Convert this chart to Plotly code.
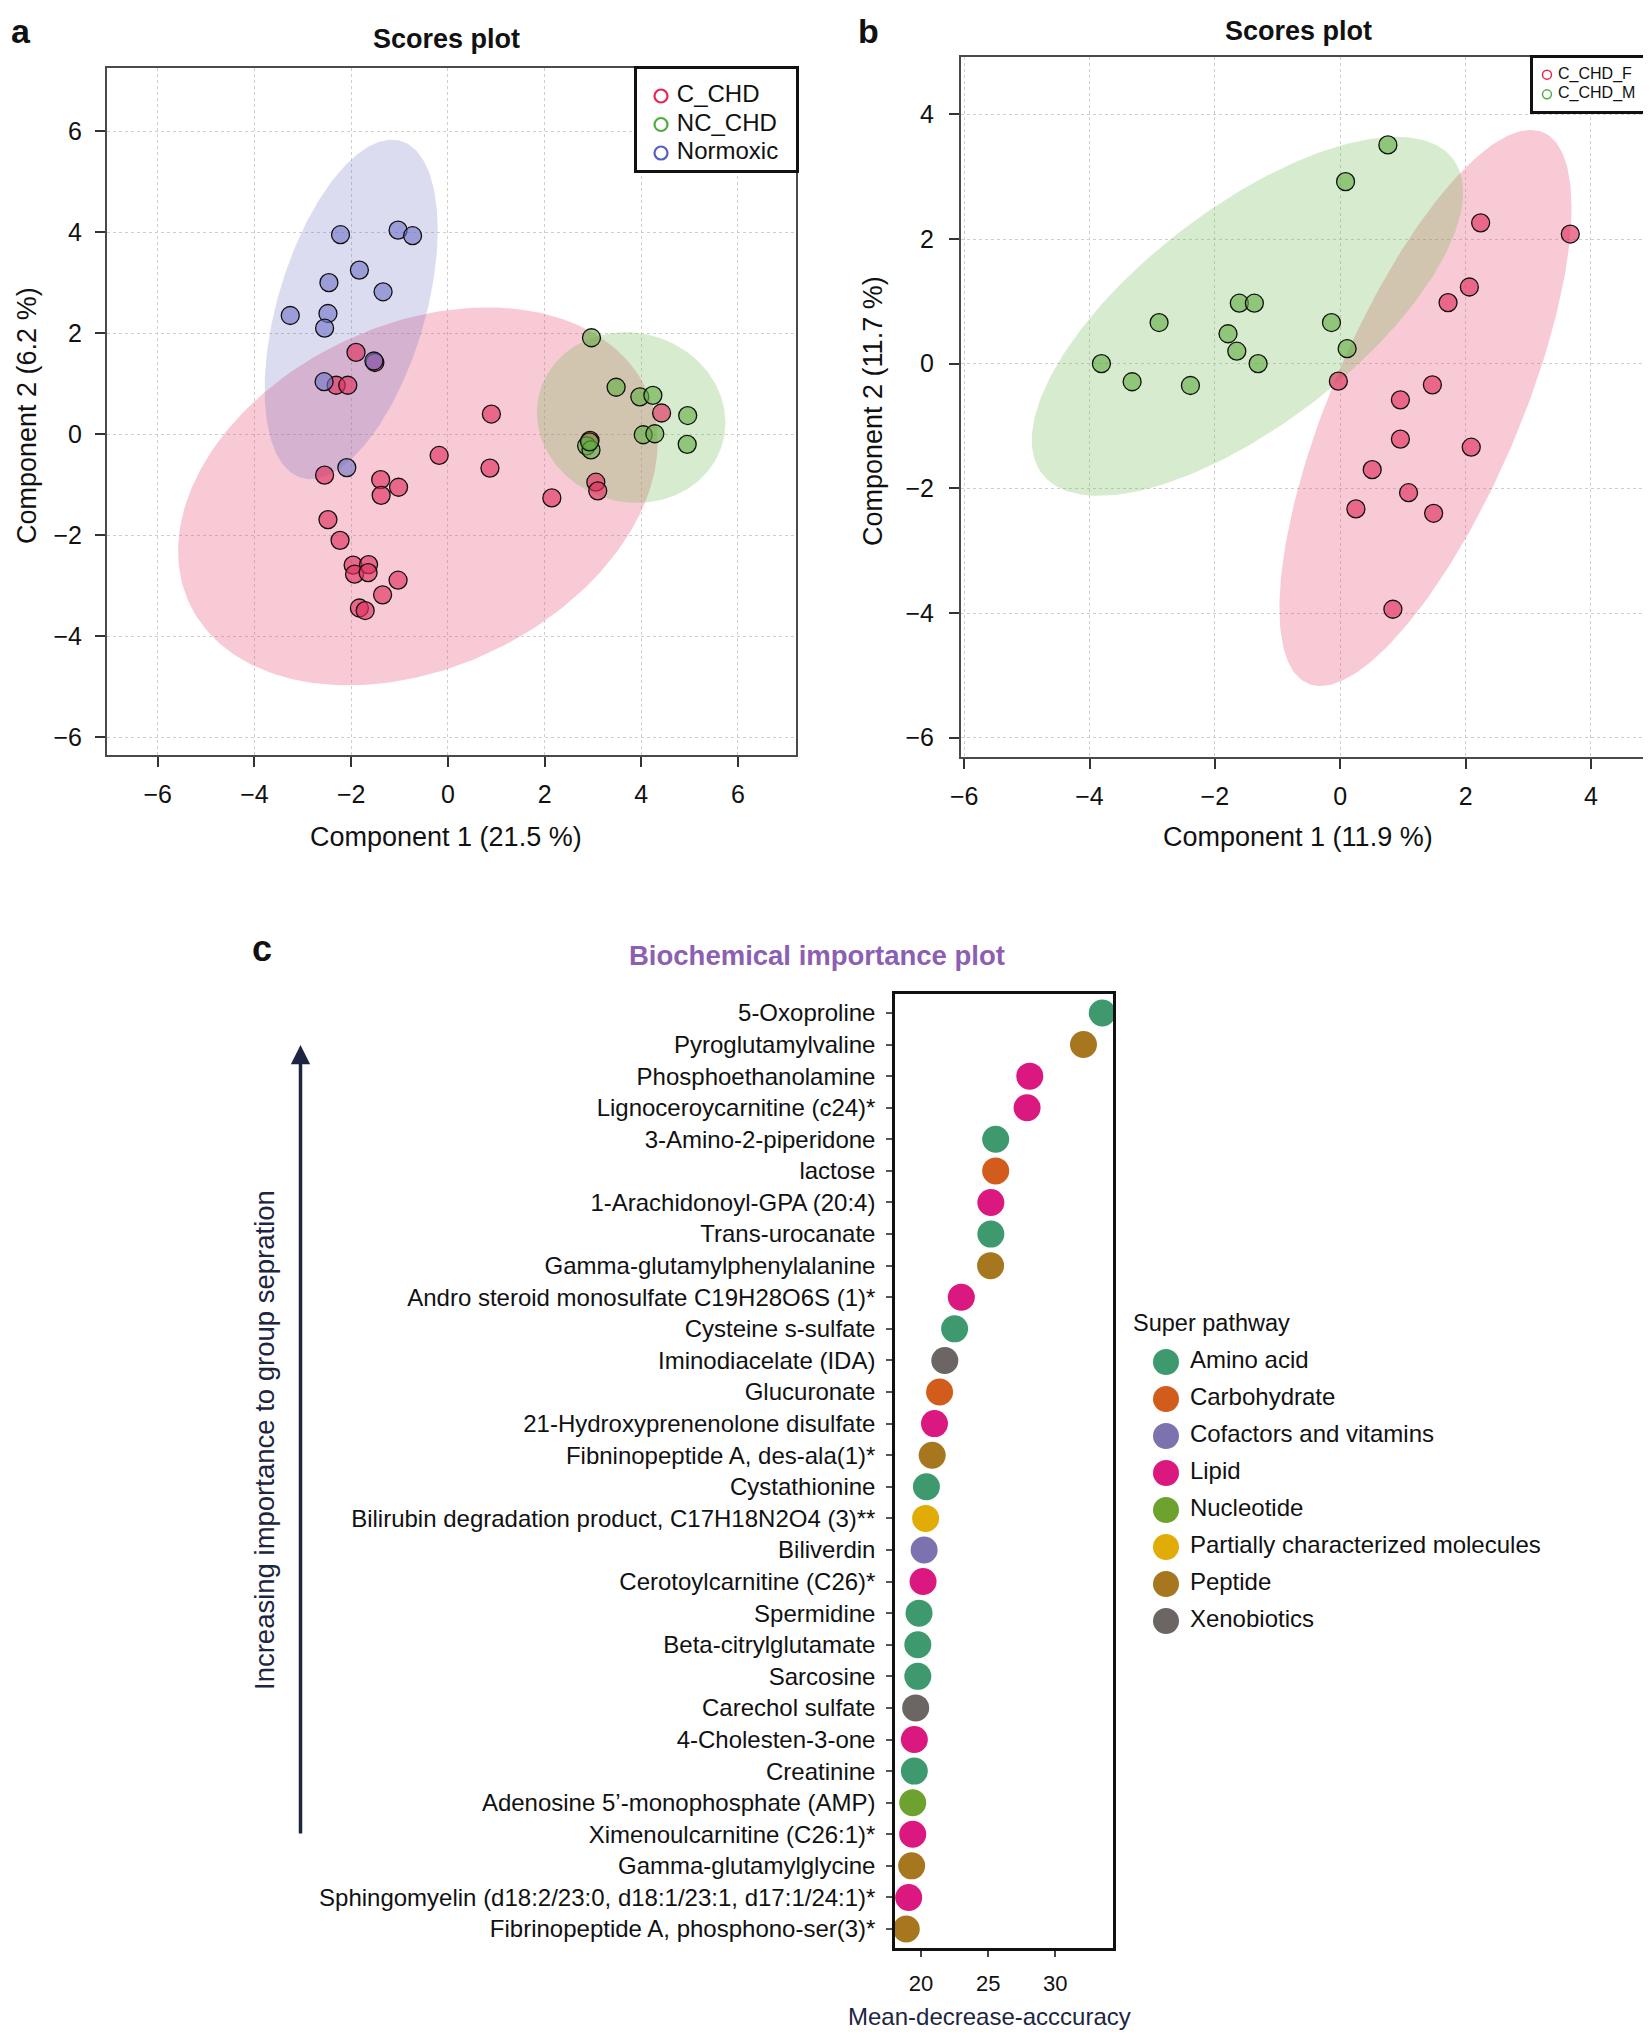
import numpy as np
import plotly.graph_objects as go

# page is 1651x2040 with the browser's 8px body margin -> figure drawn from (8, 8)
PAGE_OFF = 8
FW, FH = 1635, 2024
def px(x): return (x - PAGE_OFF) / FW
def py(y): return 1 - (y - PAGE_OFF) / FH

FONT = "Liberation Sans, Arial, Helvetica, sans-serif"
NAVY = "#1c2541"
NBSP = "\u00a0"

# ---------------- Panel a data ----------------
A_CCHD_X = [-1.90, -1.51, -2.31, -2.07, 0.90, 4.42, -0.18, 0.87, -2.55, -1.39, -1.02, -1.38, 2.15,
            3.06, 3.10, 2.94, -2.48, -2.23, -1.96, -1.64, -1.93, -1.65, -1.03, -1.35, -1.83, -1.71]
A_CCHD_Y = [1.62, 1.42, 0.97, 0.97, 0.40, 0.42, -0.42, -0.67, -0.81, -0.90, -1.05, -1.21, -1.26,
            -0.95, -1.12, -0.12, -1.69, -2.10, -2.59, -2.58, -2.77, -2.74, -2.89, -3.18, -3.44, -3.49]
A_NCCHD_X = [2.97, 3.48, 3.97, 4.24, 4.96, 4.95, 4.04, 4.28, 2.87, 2.96, 2.93]
A_NCCHD_Y = [1.91, 0.93, 0.74, 0.77, 0.37, -0.20, -0.01, 0.01, -0.23, -0.31, -0.15]
A_NORM_X = [-2.22, -1.03, -0.73, -1.83, -2.46, -1.34, -3.26, -2.48, -2.55, -1.53, -2.56, -2.09]
A_NORM_Y = [3.95, 4.04, 3.93, 3.25, 3.00, 2.82, 2.35, 2.39, 2.10, 1.45, 1.04, -0.66]

A_GROUPS = ["C_CHD", "NC_CHD", "Normoxic"]
# ellipse parameters: centre, half-width, half-height, correlation
A_ELL_CX = [-0.62, 3.79, -2.00]
A_ELL_CY = [-1.23, 0.33, 2.47]
A_ELL_W = [4.96, 1.95, 1.79]
A_ELL_H = [3.74, 1.69, 3.36]
A_ELL_R = [0.29, -0.06, 0.47]

# ---------------- Panel b data ----------------
B_F_X = [2.24, 3.67, 2.06, 1.72, -0.03, 1.47, 0.96, 0.96, 2.09, 0.51, 1.09, 0.25, 1.49, 0.84]
B_F_Y = [2.26, 2.08, 1.23, 0.98, -0.28, -0.34, -0.58, -1.21, -1.34, -1.70, -2.07, -2.33, -2.40, -3.94]
B_M_X = [0.76, 0.085, -2.89, -1.61, -1.37, -1.79, -1.65, -1.31, -3.81, -3.32, -2.39, -0.14, 0.11]
B_M_Y = [3.51, 2.92, 0.66, 0.97, 0.97, 0.48, 0.20, 0.00, 0.00, -0.29, -0.35, 0.66, 0.24]
B_GROUPS = ["C_CHD_F", "C_CHD_M"]
B_ELL_CX = [1.36, -1.48]
B_ELL_CY = [-0.71, 0.76]
B_ELL_W = [2.33, 3.44]
B_ELL_H = [4.46, 2.88]
B_ELL_R = [0.72, 0.69]

# ---------------- Panel c data ----------------
METABOLITES = [
    "5-Oxoproline", "Pyroglutamylvaline", "Phosphoethanolamine", "Lignoceroycarnitine (c24)*",
    "3-Amino-2-piperidone", "lactose", "1-Arachidonoyl-GPA (20:4)", "Trans-urocanate",
    "Gamma-glutamylphenylalanine", "Andro steroid monosulfate C19H28O6S (1)*", "Cysteine s-sulfate",
    "Iminodiacelate (IDA)", "Glucuronate", "21-Hydroxyprenenolone disulfate",
    "Fibninopeptide A, des-ala(1)*", "Cystathionine", "Bilirubin degradation product, C17H18N2O4 (3)**",
    "Biliverdin", "Cerotoylcarnitine (C26)*", "Spermidine", "Beta-citrylglutamate", "Sarcosine",
    "Carechol sulfate", "4-Cholesten-3-one", "Creatinine", "Adenosine 5\u2019-monophosphate (AMP)",
    "Ximenoulcarnitine (C26:1)*", "Gamma-glutamylglycine",
    "Sphingomyelin (d18:2/23:0, d18:1/23:1, d17:1/24:1)*", "Fibrinopeptide A, phosphono-ser(3)*"]
MDA = [33.5, 32.1, 28.1, 27.9, 25.56, 25.56, 25.2, 25.2, 25.18, 23.0, 22.5, 21.77, 21.38, 21.0,
       20.83, 20.4, 20.34, 20.23, 20.15, 19.85, 19.76, 19.76, 19.6, 19.5, 19.5, 19.38, 19.38, 19.3,
       19.08, 18.9]
PATHWAY_OF = ["Amino acid", "Peptide", "Lipid", "Lipid", "Amino acid", "Carbohydrate", "Lipid",
              "Amino acid", "Peptide", "Lipid", "Amino acid", "Xenobiotics", "Carbohydrate", "Lipid",
              "Peptide", "Amino acid", "Partially characterized molecules", "Cofactors and vitamins",
              "Lipid", "Amino acid", "Amino acid", "Amino acid", "Xenobiotics", "Lipid", "Amino acid",
              "Nucleotide", "Lipid", "Peptide", "Lipid", "Peptide"]
PATHWAYS = ["Amino acid", "Carbohydrate", "Cofactors and vitamins", "Lipid", "Nucleotide",
            "Partially characterized molecules", "Peptide", "Xenobiotics"]
PATH_COLORS = ["#3e9a6e", "#d25c1b", "#7c72b0", "#da187f", "#6da22f", "#e2ac07", "#a6771e", "#6b6563"]

A_TICKS = [-6, -4, -2, 0, 2, 4, 6]
B_XTICKS = [-6, -4, -2, 0, 2, 4]
B_YTICKS = [-6, -4, -2, 0, 2, 4]
C_TICKS = [20, 25, 30]

RED_PT = "rgba(225,50,95,0.65)"
GRN_PT = "rgba(100,175,70,0.62)"
BLU_PT = "rgba(110,115,200,0.6)"
RED_EL = "rgba(232,80,120,0.30)"
GRN_EL = "rgba(110,185,80,0.28)"
BLU_EL = "rgba(90,95,185,0.22)"
RED_LG, GRN_LG, BLU_LG = "#e8274f", "#4cae3c", "#5560c0"


def ellipse(cx, cy, w, h, r):
    t = np.linspace(0, 2 * np.pi, 240)
    d = np.arccos(r)
    return cx + w * np.cos(t), cy + h * np.cos(t - d)


fig = go.Figure()

# ---- panel a ----
for i, col in enumerate([RED_EL, GRN_EL, BLU_EL]):
    ex, ey = ellipse(A_ELL_CX[i], A_ELL_CY[i], A_ELL_W[i], A_ELL_H[i], A_ELL_R[i])
    fig.add_trace(go.Scatter(x=ex, y=ey, mode="lines", fill="toself", fillcolor=col,
                             line=dict(width=0), showlegend=False, hoverinfo="skip",
                             xaxis="x", yaxis="y"))
for xs, ys, col in [(A_CCHD_X, A_CCHD_Y, RED_PT), (A_NCCHD_X, A_NCCHD_Y, GRN_PT),
                    (A_NORM_X, A_NORM_Y, BLU_PT)]:
    fig.add_trace(go.Scatter(x=xs, y=ys, mode="markers", showlegend=False,
                             marker=dict(size=18, color=col, line=dict(color="#111", width=1.3)),
                             xaxis="x", yaxis="y"))

# ---- panel b ----
for i, col in enumerate([RED_EL, GRN_EL]):
    ex, ey = ellipse(B_ELL_CX[i], B_ELL_CY[i], B_ELL_W[i], B_ELL_H[i], B_ELL_R[i])
    fig.add_trace(go.Scatter(x=ex, y=ey, mode="lines", fill="toself", fillcolor=col,
                             line=dict(width=0), showlegend=False, hoverinfo="skip",
                             xaxis="x2", yaxis="y2"))
for xs, ys, col in [(B_F_X, B_F_Y, RED_PT), (B_M_X, B_M_Y, GRN_PT)]:
    fig.add_trace(go.Scatter(x=xs, y=ys, mode="markers", showlegend=False,
                             marker=dict(size=18, color=col, line=dict(color="#111", width=1.3)),
                             xaxis="x2", yaxis="y2"))

# ---- panel c ----
color_map = dict(zip(PATHWAYS, PATH_COLORS))
fig.add_trace(go.Scatter(x=MDA, y=METABOLITES, mode="markers", showlegend=False,
                         marker=dict(size=27, color=[color_map[p] for p in PATHWAY_OF],
                                     line=dict(width=0)),
                         xaxis="x3", yaxis="y3", cliponaxis=False))
# pathway key (panel c)
fig.add_trace(go.Scatter(x=[0] * len(PATHWAYS), y=list(range(len(PATHWAYS))), mode="markers+text",
                         text=[NBSP + p for p in PATHWAYS], textposition="middle right",
                         textfont=dict(family=FONT, size=24, color="#111"),
                         marker=dict(size=26, color=PATH_COLORS), showlegend=False,
                         xaxis="x4", yaxis="y4", cliponaxis=False))
# group keys (panels a, b), drawn in small framed boxes
fig.add_trace(go.Scatter(x=[0] * len(A_GROUPS), y=list(range(len(A_GROUPS))), mode="markers+text",
                         text=[NBSP + g for g in A_GROUPS], textposition="middle right",
                         textfont=dict(family=FONT, size=24, color="#111"),
                         marker=dict(symbol="circle-open", size=13, color=[RED_LG, GRN_LG, BLU_LG],
                                     line=dict(width=2.2)),
                         showlegend=False, xaxis="x5", yaxis="y5", cliponaxis=False))
fig.add_trace(go.Scatter(x=[0] * len(B_GROUPS), y=list(range(len(B_GROUPS))), mode="markers+text",
                         text=[NBSP + g for g in B_GROUPS], textposition="middle right",
                         textfont=dict(family=FONT, size=16, color="#111"),
                         marker=dict(symbol="circle-open", size=9, color=[RED_LG, GRN_LG],
                                     line=dict(width=1.5)),
                         showlegend=False, xaxis="x6", yaxis="y6", cliponaxis=False))


def frame_axis(domain, rng, ticks, anchor, standoff):
    return dict(domain=domain, range=rng, tickvals=ticks, anchor=anchor, showgrid=True,
                gridcolor="#cfcfcf", griddash="dot", gridwidth=1.2, zeroline=False, showline=True,
                mirror=True, linecolor="#4a4a4a", linewidth=2, ticks="outside", ticklen=10,
                tickwidth=1.6, tickcolor="#333", automargin=False,
                tickfont=dict(family=FONT, size=25, color="#111"), ticklabelstandoff=standoff)


def box_axis(domain, rng, anchor):
    return dict(domain=domain, range=rng, anchor=anchor, showgrid=False, zeroline=False,
                showticklabels=False, ticks="", showline=True, mirror=True, linecolor="#111",
                linewidth=2.5, fixedrange=True, automargin=False)


layout = dict(
    width=FW, height=FH, autosize=False, margin=dict(l=0, r=0, t=0, b=0), showlegend=False,
    paper_bgcolor="white", plot_bgcolor="white", font=dict(family=FONT, color="#111"),
    xaxis=frame_axis([px(107), px(796)], [-7.05, 7.2], A_TICKS, "y", 6),
    yaxis=frame_axis([py(755), py(68)], [-6.35, 7.25], A_TICKS, "x", 8),
    xaxis2=frame_axis([px(961), px(1643)], [-6.05, 4.83], B_XTICKS, "y2", 6),
    yaxis2=frame_axis([py(757), py(57)], [-6.31, 4.92], B_YTICKS, "x2", 10),
    xaxis3=dict(domain=[px(895), px(1113)], range=[18.06, 34.3], tickvals=C_TICKS, anchor="y3",
                showgrid=False, zeroline=False, showline=True, mirror=True, linecolor="#111",
                linewidth=2.5, ticks="outside", ticklen=6, tickwidth=2, tickcolor="#444",
                automargin=False, tickfont=dict(family=FONT, size=22, color="#111"),
                ticklabelstandoff=8),
    yaxis3=dict(domain=[py(1948), py(994)], type="category", categoryorder="array", anchor="x3",
                categoryarray=METABOLITES, range=[29.6, -0.6], showgrid=False, zeroline=False,
                showline=True, mirror=True, linecolor="#111", linewidth=2.5, ticks="outside",
                ticklen=6, tickwidth=2, tickcolor="#555", automargin=False,
                tickfont=dict(family=FONT, size=24, color="#111"), ticklabelstandoff=6),
    xaxis4=dict(domain=[px(1153), px(1179)], range=[-0.5, 0.5], anchor="y4", visible=False,
                fixedrange=True),
    yaxis4=dict(domain=[py(1639.5), py(1343.5)], range=[7.5, -0.5], anchor="x4", visible=False,
                fixedrange=True),
    xaxis5=box_axis([px(637), px(796)], [-0.151, 0.849], "y5"),
    yaxis5=box_axis([py(170), py(69)], [2.596, -0.947], "x5"),
    xaxis6=box_axis([px(1533), px(1643)], [-0.127, 0.873], "y6"),
    yaxis6=box_axis([py(110.5), py(57.5)], [1.82, -0.87], "x6"),
)
fig.update_layout(**layout)

ann = []
def text(x, y, s, size, bold=False, color="#111", angle=0, xanchor="center"):
    ann.append(dict(x=px(x), y=py(y), xref="paper", yref="paper", text=f"<b>{s}</b>" if bold else s,
                    showarrow=False, textangle=angle, xanchor=xanchor, yanchor="middle",
                    font=dict(family=FONT, size=size, color=color)))

text(21, 31, "a", 34, bold=True)
text(868, 31, "b", 34, bold=True)
text(262, 948, "c", 36, bold=True)
text(446, 39, "Scores plot", 27, bold=True)
text(1298, 31, "Scores plot", 27, bold=True)
text(446, 837, "Component 1 (21.5 %)", 27)
text(27, 416, "Component 2 (6.2 %)", 27, angle=-90)
text(1298, 837, "Component 1 (11.9 %)", 27)
text(873, 411, "Component 2 (11.7 %)", 27, angle=-90)
text(817, 956, "Biochemical importance plot", 27.5, bold=True, color="#8c5fb2")
text(989, 2016, "Mean-decrease-acccuracy", 24, color=NAVY)
text(264, 1440, "Increasing importance to group sepration", 27.5, color=NAVY, angle=-90)
text(1131, 1323, "Super pathway", 23.5, xanchor="left")
ann.append(dict(x=px(300.5), y=py(1045), xref="paper", yref="paper", ax=0, ay=790, text="",
                showarrow=True, arrowhead=2, arrowsize=1.1, arrowwidth=3.5, arrowcolor=NAVY,
                standoff=0))
fig.update_layout(annotations=ann)

fig.write_html("out.html")
